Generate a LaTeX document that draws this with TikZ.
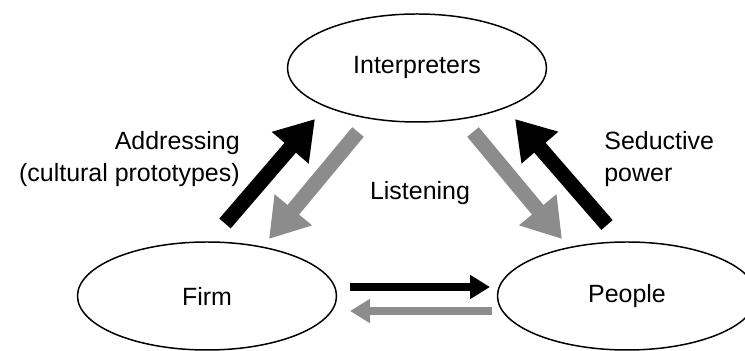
\documentclass[tikz,border=0pt]{standalone}
\usepackage{fontspec}
\setmainfont{Liberation Sans}
\usetikzlibrary{shapes.geometric,arrows.meta}

\begin{document}
\begin{tikzpicture}[every node/.style={font=\fontsize{14.2}{18.2}\selectfont, inner sep=0pt},
        actor/.style={draw, ellipse, line width=0.85pt, minimum width=5.18cm, minimum height=2.16cm},
        bigarrow/.style={line width=0.3cm, -{Triangle[length=0.76cm,width=0.92cm]}},
        smallarrow/.style={line width=0.17cm, -{Triangle[length=0.4cm,width=0.46cm]}}]
        \clip (0,0) rectangle (14.9,7.02);
        \node[actor] (interp) at (8.34,5.66) {Interpreters};
        \node[actor] (firm) at (4.14,1.1) {Firm};
        \node[actor] (people) at (12.54,1.1) {People};
        \node[anchor=east, align=right] (addr) at (4.8,3.84) {Addressing\\(cultural prototypes)};
        \node[anchor=west, align=left] (seduct) at (12.08,3.84) {Seductive\\power};
        \node (listen) at (8.4,3.16) {Listening};
        % arrow ends
        \coordinate (addrA) at (4.5,2.55);   \coordinate (addrB) at (6.3,4.64);
        \coordinate (lisfA) at (7.16,4.38);  \coordinate (lisfB) at (5.38,2.24);
        \coordinate (lispA) at (9.46,4.38);  \coordinate (lispB) at (11.24,2.24);
        \coordinate (sedA) at (12.14,2.52);  \coordinate (sedB) at (10.3,4.64);
        \coordinate (fpA) at (7.0,1.28);     \coordinate (fpB) at (9.8,1.28);
        \coordinate (pfA) at (9.84,0.8);     \coordinate (pfB) at (7.0,0.8);
        \foreach \i/\j/\c in {addrA/addrB/black, lisfA/lisfB/black!45, lispA/lispB/black!45, sedA/sedB/black}
        \draw[bigarrow, \c] (\i) -- (\j);
        \draw[smallarrow, black] (fpA) -- (fpB);
        \draw[smallarrow, black!45] (pfA) -- (pfB);
    \end{tikzpicture}
\end{document}
